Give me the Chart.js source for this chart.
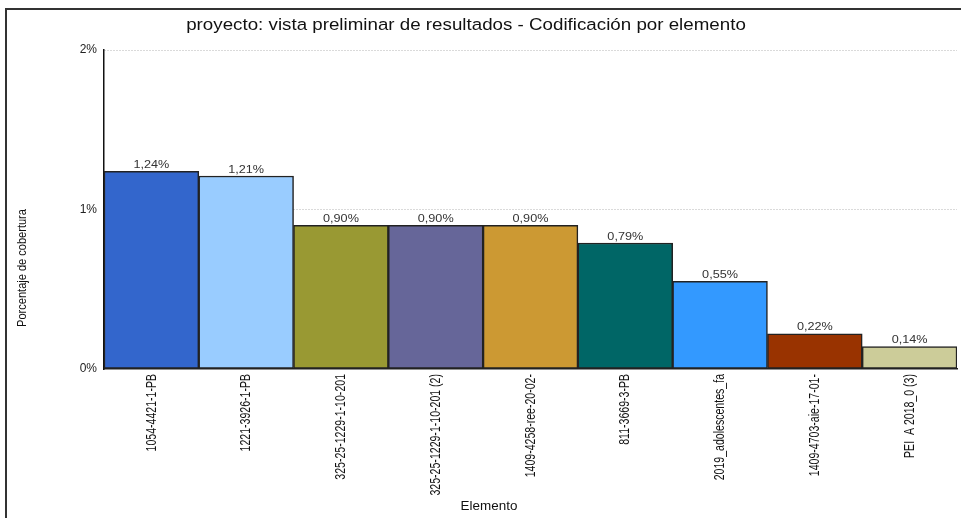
<!DOCTYPE html>
<html lang="es">
<head>
<meta charset="UTF-8" />
<title>Codificación por elemento</title>
<script src="https://cdn.jsdelivr.net/npm/chart.js"></script>
<style>
  html, body { margin: 0; padding: 0; background: #fff; }
  #wrap { position: relative; width: 961px; height: 518px; overflow: hidden; }
  #frame { position: absolute; left: 5px; top: 8px; right: -4px; bottom: -4px;
           border-left: 2px solid #333; border-top: 2px solid #333; }
  canvas { position: absolute; left: 0; top: 0; }
</style>
</head>
<body>
<div id="wrap">
  <div id="frame"></div>
  <canvas id="chart" width="961" height="518"></canvas>
</div>
<script>
// --- data ---
const elementos = [
  "1054-4421-1-PB",
  "1221-3926-1-PB",
  "325-25-1229-1-10-201",
  "325-25-1229-1-10-201 (2)",
  "1409-4258-ree-20-02-",
  "811-3669-3-PB",
  "2019_adolescentes_fa",
  "1409-4703-aie-17-01-",
  "PEI  A 2018_0 (3)"
];
const cobertura = [1.24, 1.21, 0.90, 0.90, 0.90, 0.79, 0.55, 0.22, 0.14];
const colores = ["#3366CC", "#99CCFF", "#999933", "#666699", "#CC9933", "#006666", "#3399FF", "#993300", "#CCCC99"];
const yTicks = [0, 1, 2];

const titulo = "proyecto: vista preliminar de resultados - Codificación por elemento";
const tituloX = "Elemento";
const tituloY = "Porcentaje de cobertura";

const FONT = "'Liberation Sans', Arial, sans-serif";

// the source picture is a bit stretched sideways, so text is drawn
// with a small horizontal scale to look the same
function stretchedText(ctx, txt, x, y, sx, sy, rot) {
  ctx.save();
  ctx.translate(x, y);
  if (rot) ctx.rotate(rot);
  ctx.scale(sx, sy);
  ctx.fillText(txt, 0, 0);
  ctx.restore();
}

const textos = {
  id: "textos",
  afterDraw(chart) {
    const { ctx, chartArea } = chart;
    const xs = chart.scales.x;
    ctx.save();
    ctx.fillStyle = "#111";

    // title
    ctx.font = "15px " + FONT;
    ctx.textAlign = "center";
    ctx.textBaseline = "middle";
    stretchedText(ctx, titulo, 466, 26, 1.25, 1.05);

    // category labels, rotated, reading bottom to top
    ctx.font = "12px " + FONT;
    ctx.textAlign = "right";
    ctx.textBaseline = "middle";
    elementos.forEach((lab, i) => {
      const x = xs.getPixelForTick(i);
      stretchedText(ctx, lab, x, chartArea.bottom + 5, 0.88, 1.25, -Math.PI / 2);
    });

    // axis titles
    ctx.font = "12px " + FONT;
    ctx.textAlign = "center";
    stretchedText(ctx, tituloX, 489, 507, 1.12, 1.05);
    stretchedText(ctx, tituloY, 22, 268, 0.92, 1.1, -Math.PI / 2);

    // value above each bar, e.g. "1,24%"
    const meta = chart.getDatasetMeta(0);
    ctx.font = "11px " + FONT;
    ctx.fillStyle = "#333";
    ctx.textAlign = "center";
    ctx.textBaseline = "bottom";
    meta.data.forEach((bar, i) => {
      const txt = cobertura[i].toFixed(2).replace(".", ",") + "%";
      stretchedText(ctx, txt, bar.x, bar.y - 1, 1.15, 1, 0);
    });
    ctx.restore();
  }
};

new Chart(document.getElementById("chart"), {
  type: "bar",
  data: {
    labels: elementos,
    datasets: [{
      data: cobertura,
      backgroundColor: colores,
      borderColor: "#222",
      borderWidth: 1.5,
      borderSkipped: false,
      barPercentage: 1,
      categoryPercentage: 1
    }]
  },
  options: {
    responsive: false,
    animation: false,
    layout: { padding: { left: 0, right: 4, top: 50, bottom: 0 } },
    plugins: {
      legend: { display: false },
      tooltip: { enabled: false },
      title: { display: false }
    },
    scales: {
      x: {
        afterFit(scale) { scale.height = 149; },
        grid: { display: false, drawTicks: false },
        border: { display: true, color: "#222", width: 1.5 },
        ticks: { display: false, autoSkip: false }
      },
      y: {
        min: 0,
        max: 2,
        afterFit(scale) { scale.width = 104; },
        afterBuildTicks(scale) { scale.ticks = yTicks.map(v => ({ value: v })); },
        grid: {
          drawTicks: false,
          color: c => (c.tick && c.tick.value === 0 ? "rgba(0,0,0,0)" : "#b5b5b5"),
          lineWidth: 1
        },
        border: { display: true, color: "#111", width: 1.5, dash: [1, 2] },
        ticks: {
          color: "#222",
          font: { family: FONT, size: 12 },
          padding: 7,
          callback: v => v + "%"
        }
      }
    }
  },
  plugins: [textos]
});
</script>
</body>
</html>
